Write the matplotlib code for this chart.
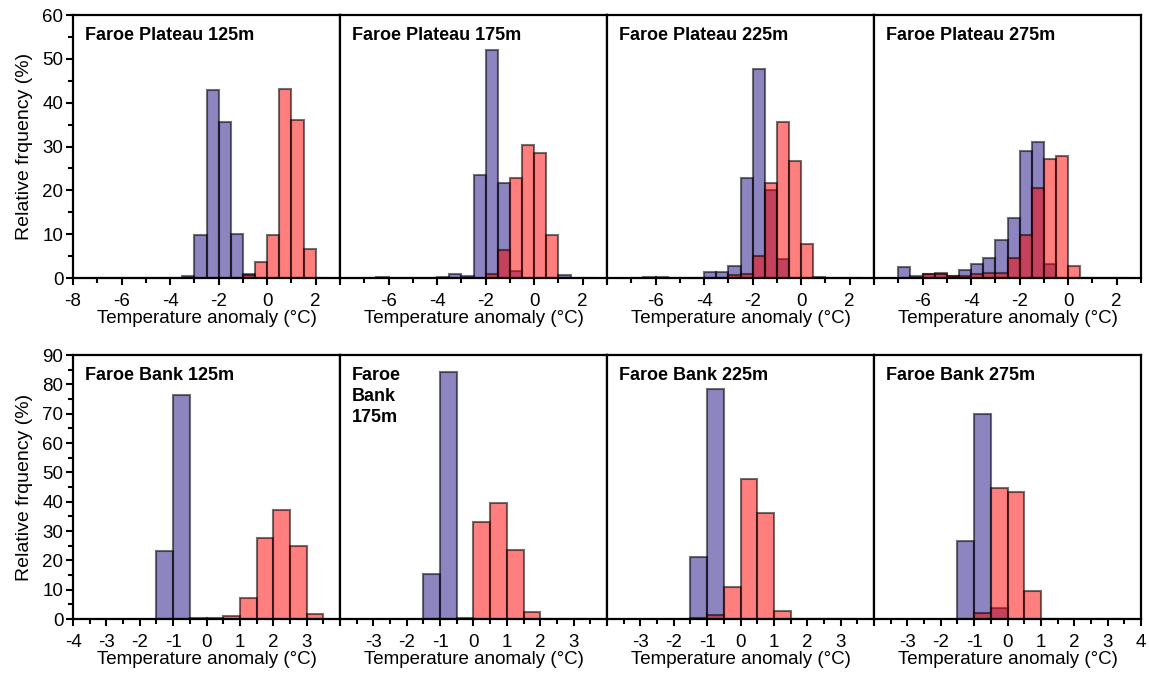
import numpy as np
import matplotlib.pyplot as plt
from matplotlib.ticker import MultipleLocator

plt.rcParams['font.family'] = ['Liberation Sans', 'DejaVu Sans']

# bin left edges (0.5 degC bins)
plateau_bins = [-7.0, -6.5, -6.0, -5.5, -5.0, -4.5, -4.0, -3.5, -3.0, -2.5,
                -2.0, -1.5, -1.0, -0.5, 0.0, 0.5, 1.0, 1.5, 2.0]
bank_bins = [-1.5, -1.0, -0.5, 0.0, 0.5, 1.0, 1.5, 2.0, 2.5, 3.0]

# Faroe Plateau, relative frequency (%)
fp125_blue = [0, 0, 0, 0, 0, 0, 0, 0.4, 9.7, 43.0, 35.7, 10.1, 1.0, 0, 0, 0, 0, 0, 0]
fp125_red = [0, 0, 0, 0, 0, 0, 0, 0, 0, 0, 0, 0, 0.6, 3.6, 9.7, 43.2, 36.1, 6.6, 0]
fp175_blue = [0, 0.2, 0, 0, 0, 0, 0.2, 0.8, 0.5, 23.4, 52.1, 21.6, 1.7, 0, 0, 0, 0.6, 0.1, 0]
fp175_red = [0, 0, 0, 0, 0, 0, 0, 0, 0, 0, 1.0, 6.3, 22.8, 30.3, 28.6, 9.7, 0, 0, 0]
fp225_blue = [0, 0.2, 0.2, 0, 0.1, 0, 1.3, 1.4, 2.7, 22.8, 47.6, 20.0, 4.3, 0, 0, 0.2, 0, 0, 0]
fp225_red = [0, 0, 0, 0, 0, 0, 0, 0, 0.7, 1.0, 5.0, 21.6, 35.7, 26.8, 7.8, 0.1, 0, 0, 0]
fp275_blue = [2.6, 0.4, 1.0, 1.1, 0.4, 1.9, 3.1, 4.6, 8.7, 13.8, 29.0, 31.0, 3.2, 0, 0, 0, 0, 0.1, 0.1]
fp275_red = [0, 0, 1.0, 1.0, 0.5, 0.5, 1.0, 1.1, 1.2, 4.6, 9.7, 20.5, 27.2, 27.8, 2.8, 0, 0, 0, 0]

# Faroe Bank, relative frequency (%)
fb125_blue = [23.2, 76.5, 0.3, 0, 0, 0, 0, 0, 0, 0]
fb125_red = [0, 0, 0, 0.2, 1.0, 7.2, 27.6, 37.0, 24.9, 1.7]
fb175_blue = [15.5, 84.2, 0.4, 0, 0, 0, 0, 0, 0, 0]
fb175_red = [0, 0, 0, 33.0, 39.6, 23.6, 2.5, 0, 0, 0]
fb225_blue = [21.3, 78.3, 0, 0, 0, 0, 0, 0, 0, 0]
fb225_red = [0.3, 1.4, 10.9, 47.6, 36.2, 2.7, 0, 0, 0, 0]
fb275_blue = [26.7, 69.8, 3.6, 0, 0, 0, 0, 0, 0, 0]
fb275_red = [0, 1.9, 44.5, 43.3, 9.7, 0, 0, 0, 0, 0]

top_titles = ["Faroe Plateau 125m", "Faroe Plateau 175m",
              "Faroe Plateau 225m", "Faroe Plateau 275m"]
bottom_titles = ["Faroe Bank 125m", "Faroe\nBank\n175m",
                 "Faroe Bank 225m", "Faroe Bank 275m"]

top_data = [(fp125_blue, fp125_red), (fp175_blue, fp175_red),
            (fp225_blue, fp225_red), (fp275_blue, fp275_red)]
bottom_data = [(fb125_blue, fb125_red), (fb175_blue, fb175_red),
               (fb225_blue, fb225_red), (fb275_blue, fb275_red)]

blue = (0.10, 0.05, 0.50, 0.5)
red = (1.0, 0.0, 0.0, 0.5)
edge = (0.0, 0.0, 0.0, 0.55)

fig = plt.figure(figsize=(11.49, 6.77), dpi=100)

W, H = 1149, 677
left_px, right_px = 73, 1141
panel_w = (right_px - left_px) / 4
rows = [(15, 278), (355, 619)]


def style_axis(ax):
    for s in ax.spines.values():
        s.set_linewidth(1.6)
    ax.tick_params(which='major', direction='out', length=5, width=1.5,
                   labelsize=13.5)
    ax.tick_params(axis='x', which='major', pad=6)
    ax.tick_params(axis='y', which='major', pad=2)
    ax.tick_params(which='minor', direction='out', length=3.5, width=1.5)
    ax.tick_params(axis='both', top=False, right=False)
    ax.set_xlabel("Temperature anomaly (°C)", fontsize=13.5, labelpad=0)


for r, (titles, data, bins, xlim, ylim, xmaj, xmin, ymaj, ymin) in enumerate([
        (top_titles, top_data, plateau_bins, (-8, 3), (0, 60), 2, 1, 10, 5),
        (bottom_titles, bottom_data, bank_bins, (-4, 4), (0, 90), 1, 0.5, 10, 5)]):
    top_px, bot_px = rows[r]
    for c in range(4):
        x0 = (left_px + c * panel_w) / W
        y0 = 1 - bot_px / H
        ax = fig.add_axes([x0, y0, panel_w / W, (bot_px - top_px) / H])
        b, rd = data[c]
        ax.bar(bins, b, width=0.5, align='edge', color=blue,
               edgecolor=edge, linewidth=1.5)
        ax.bar(bins, rd, width=0.5, align='edge', color=red,
               edgecolor=edge, linewidth=1.5)
        ax.set_xlim(*xlim)
        ax.set_ylim(*ylim)
        ax.xaxis.set_major_locator(MultipleLocator(xmaj))
        ax.xaxis.set_minor_locator(MultipleLocator(xmin))
        ax.yaxis.set_major_locator(MultipleLocator(ymaj))
        ax.yaxis.set_minor_locator(MultipleLocator(ymin))
        style_axis(ax)

        ticks = np.arange(xlim[0], xlim[1] + 0.001, xmaj)
        labels = [f"{t:g}" for t in ticks]
        if c > 0:
            labels[0] = ""
        if c < 3 and r == 1:
            labels[-1] = ""
        ax.set_xticks(ticks)
        ax.set_xticklabels(labels)

        if c == 0:
            ax.set_ylabel("Relative frquency (%)", fontsize=14, labelpad=7)
        else:
            ax.tick_params(axis='y', which='both', left=False, labelleft=False)

        ax.text(0.045, 0.955, titles[c], transform=ax.transAxes,
                ha='left', va='top', fontsize=13, fontweight='bold',
                linespacing=1.3)

fig.savefig("out.png", dpi=100)
